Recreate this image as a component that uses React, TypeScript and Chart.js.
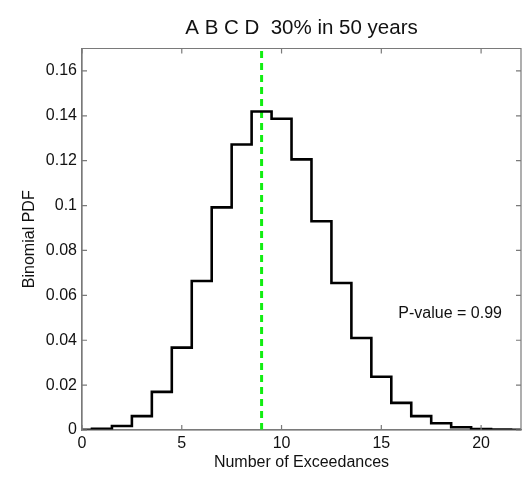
import React, { useEffect, useRef } from "react";
import { Chart, registerables } from "chart.js";

Chart.register(...registerables);

const titleText = "A B C D  30% in 50 years";
const xLabel = "Number of Exceedances";
const yLabel = "Binomial PDF";
const exceedances = [0, 1, 2, 3, 4, 5, 6, 7, 8, 9, 10, 11, 12, 13, 14, 15, 16, 17, 18, 19, 20, 21, 22];
const pdfValues = [0.0001, 0.0005, 0.0018, 0.0062, 0.017, 0.0367, 0.0664, 0.0992, 0.1272, 0.1419, 0.1387, 0.1206, 0.093, 0.0655, 0.041, 0.0237, 0.0121, 0.0062, 0.003, 0.0012, 0.0004, 0.0002, 0.0001];
const observedValue = 9;
const pValueText = "P-value = 0.99";
const pValuePos = { x: 18.45, y: 0.052 };
const xTicks = [0, 5, 10, 15, 20];
const yTicks = [0, 0.02, 0.04, 0.06, 0.08, 0.1, 0.12, 0.14, 0.16];

const FONT = "'Liberation Sans', Arial, Helvetica, sans-serif";
const AXIS_COLOR = "#7a7a7a";
const TEXT_COLOR = "#111";

const boxPlugin = {
  id: "boxPlugin",
  afterDraw(chart: any) {
    const { ctx, chartArea } = chart;
    const xs = chart.scales.x;
    const ys = chart.scales.y;
    const { left, right, top, bottom } = chartArea;
    ctx.save();
    ctx.strokeStyle = AXIS_COLOR;
    ctx.lineWidth = 1.2;
    ctx.beginPath();
    ctx.rect(left, top, right - left, bottom - top);
    ctx.stroke();
    const tl = 5;
    ctx.beginPath();
    for (const t of xTicks) {
      const px = xs.getPixelForValue(t);
      ctx.moveTo(px, bottom);
      ctx.lineTo(px, bottom - tl);
      ctx.moveTo(px, top);
      ctx.lineTo(px, top + tl);
    }
    for (const t of yTicks) {
      const py = ys.getPixelForValue(t);
      ctx.moveTo(left, py);
      ctx.lineTo(left + tl, py);
      ctx.moveTo(right, py);
      ctx.lineTo(right - tl, py);
    }
    ctx.stroke();
    ctx.fillStyle = TEXT_COLOR;
    ctx.font = `16px ${FONT}`;
    ctx.textAlign = "center";
    ctx.textBaseline = "middle";
    ctx.fillText(pValueText, xs.getPixelForValue(pValuePos.x), ys.getPixelForValue(pValuePos.y));
    ctx.font = `20.5px ${FONT}`;
    ctx.fillText(titleText, (left + right) / 2, 28);
    ctx.restore();
  },
};

export default function App() {
  const ref = useRef<HTMLCanvasElement | null>(null);
  useEffect(() => {
    document.body.style.margin = "0";
    const canvas = ref.current;
    if (!canvas) return;
    const chart = new Chart(canvas, {
      type: "line",
      data: {
        datasets: [
          {
            data: exceedances.map((x, i) => ({ x, y: pdfValues[i] })),
            stepped: "middle",
            borderColor: "#000",
            borderWidth: 2.6,
            pointRadius: 0,
            fill: false,
          },
          {
            data: [
              { x: observedValue, y: 0 },
              { x: observedValue, y: 0.17 },
            ],
            borderColor: "#11ee11",
            borderWidth: 3,
            borderDash: [7, 5],
            pointRadius: 0,
            fill: false,
          },
        ],
      },
      plugins: [boxPlugin],
      options: {
        responsive: false,
        animation: false,
        devicePixelRatio: 1,
        layout: { padding: { left: 0, right: 8, top: 48.5, bottom: 0 } },
        plugins: {
          legend: { display: false },
          tooltip: { enabled: false },
          title: { display: false },
        },
        scales: {
          x: {
            type: "linear",
            min: 0,
            max: 22,
            grid: { display: false, drawTicks: false },
            border: { display: true, color: AXIS_COLOR, width: 1.2 },
            ticks: {
              stepSize: 5,
              includeBounds: false,
              color: TEXT_COLOR,
              font: { family: FONT, size: 16 },
              padding: 4,
              maxRotation: 0,
            },
            title: {
              display: true,
              text: xLabel,
              color: TEXT_COLOR,
              font: { family: FONT, size: 16 },
              padding: { top: 0, bottom: 5.6 },
            },
            afterFit(scale: any) {
              scale.height = 48;
            },
          },
          y: {
            type: "linear",
            min: 0,
            max: 0.17,
            grid: { display: false, drawTicks: false },
            border: { display: true, color: AXIS_COLOR, width: 1.2 },
            ticks: {
              stepSize: 0.02,
              includeBounds: false,
              color: TEXT_COLOR,
              font: { family: FONT, size: 16 },
              padding: 5,
              callback: (v: any) => String(+Number(v).toFixed(4)),
            },
            title: {
              display: true,
              text: yLabel,
              color: TEXT_COLOR,
              font: { family: FONT, size: 16 },
              padding: { top: 19.9, bottom: 0 },
            },
            afterFit(scale: any) {
              scale.width = 82;
            },
          },
        },
      },
    });
    return () => chart.destroy();
  }, []);
  return (
    <div style={{ width: 529, height: 478, background: "#fff" }}>
      <canvas ref={ref} width={529} height={478} style={{ display: "block" }} />
    </div>
  );
}
